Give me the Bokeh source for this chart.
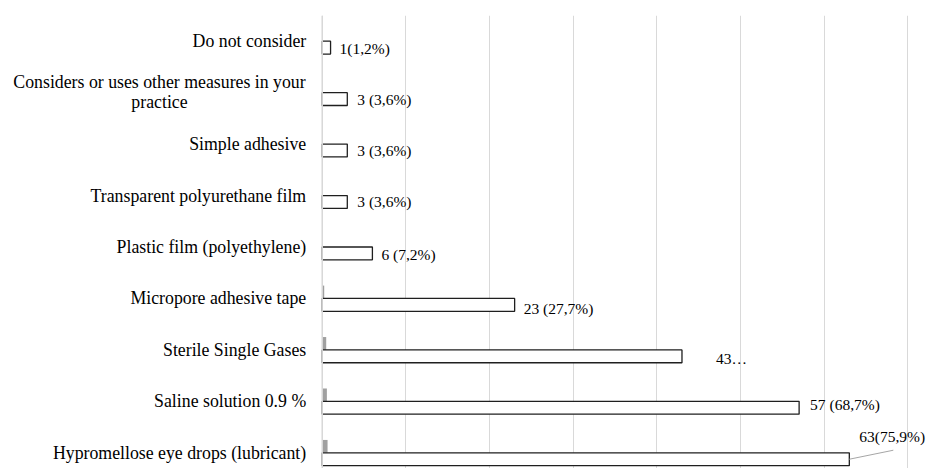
from bokeh.plotting import figure
from bokeh.models import Range1d, Grid, SingleIntervalTicker, ColumnDataSource, Span
from bokeh.transform import dodge
from bokeh.core.properties import value
from bokeh.embed import file_html
from bokeh.resources import INLINE

# ---- data ----
categories = [
    "Do not consider",
    "Considers or uses other measures in your\npractice",
    "Simple adhesive",
    "Transparent polyurethane film",
    "Plastic film (polyethylene)",
    "Micropore adhesive tape",
    "Sterile Single Gases",
    "Saline solution 0.9 %",
    "Hypromellose eye drops (lubricant)",
]
counts = [1, 3, 3, 3, 6, 23, 43, 57, 63]
shares = [0.0, 0.0, 0.0, 0.0, 0.0, 0.24, 0.48, 0.56, 0.64]
count_labels = ["1(1,2%)", "3 (3,6%)", "3 (3,6%)", "3 (3,6%)", "6 (7,2%)",
                "23 (27,7%)", "43\u2026", "57 (68,7%)", "63(75,9%)"]

# ---- layout ----
W, H = 926, 468
TOP = 15
X0_PX = 321.7          # pixel of value 0
PX_PER_UNIT = 8.367    # pixels per unit on x
ROW_PX = 51.45         # pixels per category row
FIRST_CENTER_PX = 40.7

x_start = -X0_PX / PX_PER_UNIT
x_end = (W - X0_PX) / PX_PER_UNIT
y_top = -0.5 - (FIRST_CENTER_PX - TOP - ROW_PX / 2) / ROW_PX
y_bottom = y_top + (H - TOP) / ROW_PX

pos = list(range(len(categories)))
FONT = value("Liberation Serif")

p = figure(width=W, height=H, output_backend="svg", toolbar_location=None,
           x_axis_type=None, y_axis_type=None,
           x_range=Range1d(x_start, x_end), y_range=Range1d(y_bottom, y_top),
           min_border_left=0, min_border_right=0, min_border_top=TOP,
           min_border_bottom=0)
p.outline_line_color = None
p.background_fill_color = "white"
p.border_fill_color = "white"

grid = Grid(dimension=0, ticker=SingleIntervalTicker(interval=10),
            bounds=(0, 70), grid_line_color="#d9d9d9", grid_line_width=1)
p.add_layout(grid)

src = ColumnDataSource(dict(y=pos, cat=categories, n=counts, s=shares,
                            lab=count_labels))

BAR_H = 0.25
p.hbar(y=dodge("y", -BAR_H / 2), left=0, right="s", height=BAR_H, source=src,
       fill_color="#a0a0a0", line_color=None)
p.hbar(y=dodge("y", BAR_H / 2), left=0, right="n", height=BAR_H, source=src,
       fill_color="white", line_color="#1f1f1f", line_width=1.3)

# zero line drawn over the bars
p.add_layout(Span(location=0, dimension="height", line_color="#d9d9d9",
                  line_width=1.5, level="overlay"))

# category labels
single = [i for i, c in enumerate(categories) if "\n" not in c]
multi = [i for i, c in enumerate(categories) if "\n" in c]
p.text(x=[0] * len(single), y=[pos[i] for i in single],
       text=[categories[i] for i in single], x_offset=-16,
       text_align="right", text_baseline="middle", text_font=FONT,
       text_font_size="17.8px", text_color="#000000")
p.text(x=[0] * len(multi), y=[pos[i] for i in multi],
       text=[categories[i] for i in multi], x_offset=159 - X0_PX, y_offset=-1,
       text_align="center", text_baseline="middle", text_font=FONT,
       text_font_size="17.8px", text_color="#000000", text_line_height=1.0)

# data labels (pixel offsets from bar end / bar centre)
label_dx = [9, 10, 10, 10, 9, 9, 34, 11, 10]
label_dy = [1, 0, 0, 0, 1, 4, 2, -3, -23]
for i in pos:
    p.text(x=[counts[i]], y=[pos[i] + BAR_H / 2], text=[count_labels[i]],
           x_offset=label_dx[i], y_offset=label_dy[i], text_align="left",
           text_baseline="middle", text_font=FONT, text_font_size="15.5px",
           text_color="#000000")

# leader line for last label
i = len(counts) - 1
p.segment(x0=[counts[i]], y0=[pos[i] + BAR_H / 2],
          x1=[counts[i] + 44 / PX_PER_UNIT], y1=[pos[i] + BAR_H / 2 - 9 / ROW_PX],
          line_color="#a6a6a6", line_width=1)

open("out.html", "w").write(file_html(p, INLINE))
